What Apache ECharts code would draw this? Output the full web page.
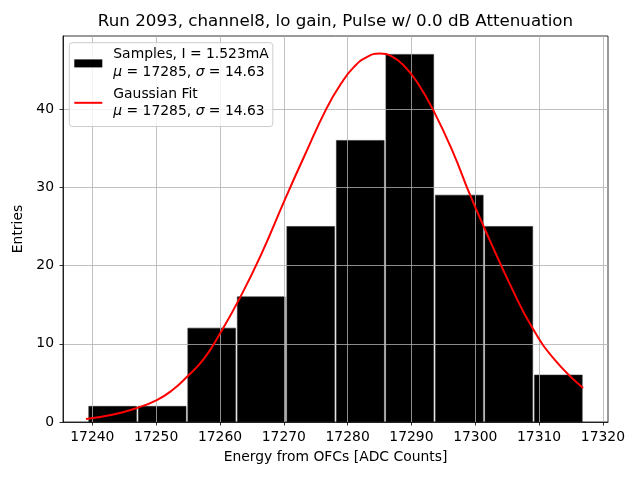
<!DOCTYPE html>
<html>
<head>
<meta charset="utf-8">
<script src="https://cdn.jsdelivr.net/npm/echarts@6/dist/echarts.min.js"></script>
<style>html,body{margin:0;padding:0;background:#fff}#c{width:640px;height:480px}</style>
</head>
<body>
<div id="c"></div>
<script>
// Histogram bin edges and counts
var binEdges = [17239.3, 17247.06, 17254.82, 17262.58, 17270.34, 17278.1, 17285.86, 17293.62, 17301.38, 17309.14, 17316.9];
var counts = [2, 2, 12, 16, 25, 36, 47, 29, 25, 6];
// Gaussian fit curve
var fitX = [17239.0, 17243.3, 17247.0, 17250.1, 17252.5, 17254.8, 17257.5, 17260.0, 17263.2, 17266.5, 17270.2, 17273.5, 17276.7, 17279.0, 17281.0, 17283.0, 17285.0, 17287.0, 17289.0, 17291.0, 17293.4, 17296.5, 17299.2, 17302.3, 17305.5, 17308.9, 17312.5, 17316.9];
var fitY = [0.38, 0.95, 1.8, 2.8, 4.05, 5.75, 8.1, 11.3, 16.0, 21.5, 28.5, 34.5, 40.1, 43.3, 45.4, 46.65, 47.1, 46.7, 45.4, 43.3, 39.9, 34.5, 29.0, 23.2, 17.5, 12.1, 7.9, 4.35];
// Tick labels
var xTicks = [17240, 17250, 17260, 17270, 17280, 17290, 17300, 17310, 17320];
var yTicks = [0, 10, 20, 30, 40];

var titleText = 'Run 2093, channel8, lo gain, Pulse w/ 0.0 dB Attenuation';
var legendText = {
  'Samples': '{s| }Samples, I = 1.523mA\n{s| }{i|\u03bc} = 17285, {i|\u03c3} = 14.63',
  'Gaussian Fit': '{s| }Gaussian Fit\n{s| }{i|\u03bc} = 17285, {i|\u03c3} = 14.63'
};

var FONT = 'DejaVu Sans';
var chart = echarts.init(document.getElementById('c'), null, {renderer: 'canvas'});

var histData = counts.map(function (c, i) { return [binEdges[i], binEdges[i + 1], c]; });
var fitData = fitX.map(function (x, i) { return [x, fitY[i]]; });

var axisCommon = {
  axisLine: {show: true, onZero: false, lineStyle: {color: '#000', width: 0.8}},
  axisTick: {show: true, length: 3.5, inside: false, lineStyle: {color: '#000', width: 0.8}},
  splitLine: {show: true, lineStyle: {color: '#b0b0b0', width: 0.8}},
  nameTextStyle: {fontFamily: FONT, fontSize: 13.9, color: '#000'}
};

chart.setOption({
  animation: false,
  backgroundColor: '#fff',
  title: {
    text: titleText,
    left: 335.5, textAlign: 'center',
    top: 13.5, padding: 0,
    textStyle: {fontFamily: FONT, fontSize: 16.7, fontWeight: 'normal', color: '#000'}
  },
  grid: {left: 63, right: 32, top: 36, bottom: 58, show: true, borderColor: '#000', borderWidth: 0.8, backgroundColor: 'transparent'},
  legend: {
    left: 69.3, top: 42.7, orient: 'vertical',
    padding: [3.5, 4, 6.5, 5],
    itemGap: 5, itemWidth: 28, itemHeight: 8,
    backgroundColor: 'rgba(255,255,255,0.8)',
    borderColor: '#cccccc', borderWidth: 1, borderRadius: 3,
    z: 10,
    data: [
      {name: 'Samples', icon: 'rect', itemStyle: {color: '#000'}},
      {name: 'Gaussian Fit', icon: 'path://M0,0 L0,0 M0,3 L28,3 L28,5 L0,5 Z M0,8 L0,8', itemStyle: {color: '#ff0000'}}
    ],
    formatter: function (n) { return legendText[n]; },
    textStyle: {
      fontFamily: FONT, fontSize: 13.9, color: '#000', lineHeight: 17.2,
      rich: {
        i: {fontFamily: FONT, fontSize: 13.9, fontStyle: 'italic', color: '#000', lineHeight: 17.2},
        s: {width: 6, fontSize: 13.9, lineHeight: 17.2}
      }
    }
  },
  xAxis: Object.assign({}, axisCommon, {
    type: 'value', min: 17235.4, max: 17320.8, z: 3,
    name: 'Energy from OFCs [ADC Counts]', nameLocation: 'middle', nameGap: 28.5,
    axisTick: Object.assign({}, axisCommon.axisTick, {customValues: xTicks}),
    axisLabel: {customValues: xTicks, fontFamily: FONT, fontSize: 13.9, color: '#000', margin: 8,
      formatter: function (v) { return String(v); }}
  }),
  yAxis: Object.assign({}, axisCommon, {
    type: 'value', min: 0, max: 49.35, z: 3,
    name: 'Entries', nameLocation: 'middle', nameGap: 34, nameRotate: 90,
    axisTick: Object.assign({}, axisCommon.axisTick, {customValues: yTicks}),
    axisLabel: {customValues: yTicks, fontFamily: FONT, fontSize: 13.9, color: '#000', margin: 9,
      formatter: function (v) { return String(v); }}
  }),
  series: [
    {
      name: 'Samples', type: 'custom', z: 2,
      encode: {x: [0, 1], y: 2},
      data: histData,
      itemStyle: {color: '#000'},
      renderItem: function (params, api) {
        var p0 = api.coord([api.value(0), api.value(2)]);
        var p1 = api.coord([api.value(1), 0]);
        return {
          type: 'rect',
          shape: {x: p0[0] + 0.9, y: p0[1], width: p1[0] - p0[0] - 1.8, height: p1[1] - p0[1]},
          style: {fill: '#000', stroke: '#2a2a2a', lineWidth: 0.6}
        };
      }
    },
    {
      name: 'Gaussian Fit', type: 'line', z: 5,
      data: fitData, smooth: 0.5, symbol: 'none', showSymbol: false,
      lineStyle: {color: '#ff0000', width: 2},
      itemStyle: {color: '#ff0000'}
    }
  ]
});
</script>
</body>
</html>
